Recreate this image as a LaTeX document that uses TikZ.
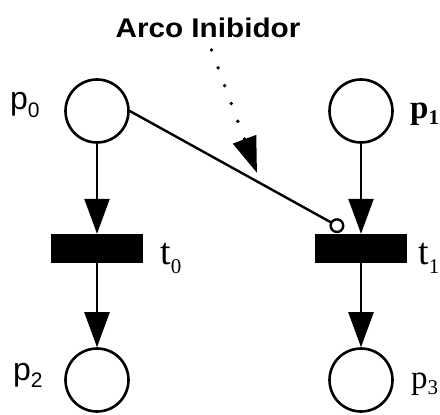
\documentclass[tikz,border=0pt]{standalone}
\usepackage{fontspec}
\setmainfont{Liberation Serif}
\newfontfamily\sansf{Liberation Sans}
\usetikzlibrary{arrows.meta,calc}
\newcommand\subd[2][-7pt]{{\fontsize{21}{21}\selectfont\raisebox{#1}{#2}}}
\begin{document}
\begin{tikzpicture}[x=1pt,y=-1pt,
  place/.style={circle,draw,line width=2.6pt,minimum size=63pt,inner sep=0pt},
  trans/.style={rectangle,fill=black,minimum width=92pt,minimum height=29pt,inner sep=0pt},
  arc/.style={line width=2.4pt,-{Triangle[length=35pt,width=25pt]}},
  inhib/.style={line width=2.4pt,-{Circle[open,length=15pt,width=15pt,fill=white]}},
  pointer/.style={line width=3.8pt,line cap=round,dash pattern=on 0pt off 19pt,-{Triangle[length=36pt,width=24pt]}},
  lab/.style={inner sep=0pt,anchor=base west},
]
\useasboundingbox (0,0) rectangle (440,415);
\node[place] (p0) at (97,111) {};
\node[place] (p1) at (361,111) {};
\node[place] (p2) at (97,380) {};
\node[place] (p3) at (361,380) {};
\node[trans] (t0) at (97,248.5) {};
\node[trans] (t1) at (361,248.5) {};
\draw[arc] (p0) -- (t0);
\draw[arc] (t0) -- (p2);
\draw[arc] (p1) -- (t1);
\draw[arc] (t1) -- (p3);
\draw[inhib] (p0.east) -- ($(t1.north)+(-17.5,-4.5)$);
\node[inner sep=0pt,xscale=1.1,font=\sansf\bfseries\fontsize{27}{27}\selectfont] (lbl) at (208,28) {Arco Inibidor};
\coordinate (d0) at (211.5,50);
\coordinate (d1) at (257,173);
\draw[pointer] (d0) -- (d1);
\node[lab,font=\sansf\fontsize{32}{32}\selectfont] (l0) at (10,110) {p\subd{0}};
\node[lab,font=\sansf\fontsize{32}{32}\selectfont] (l2) at (13,380) {p\subd{2}};
\node[lab,font=\bfseries\fontsize{33}{33}\selectfont] (l1) at (410,118) {p\subd[-6pt]{1}};
\node[lab,font=\fontsize{33}{33}\selectfont] (l3) at (411,388) {p\subd[-6pt]{3}};
\node[lab,font=\fontsize{38}{38}\selectfont] (lt0) at (160,264) {t\subd[-9pt]{0}};
\node[lab,font=\fontsize{38}{38}\selectfont] (lt1) at (418,264) {t\subd[-9pt]{1}};
\end{tikzpicture}
\end{document}
